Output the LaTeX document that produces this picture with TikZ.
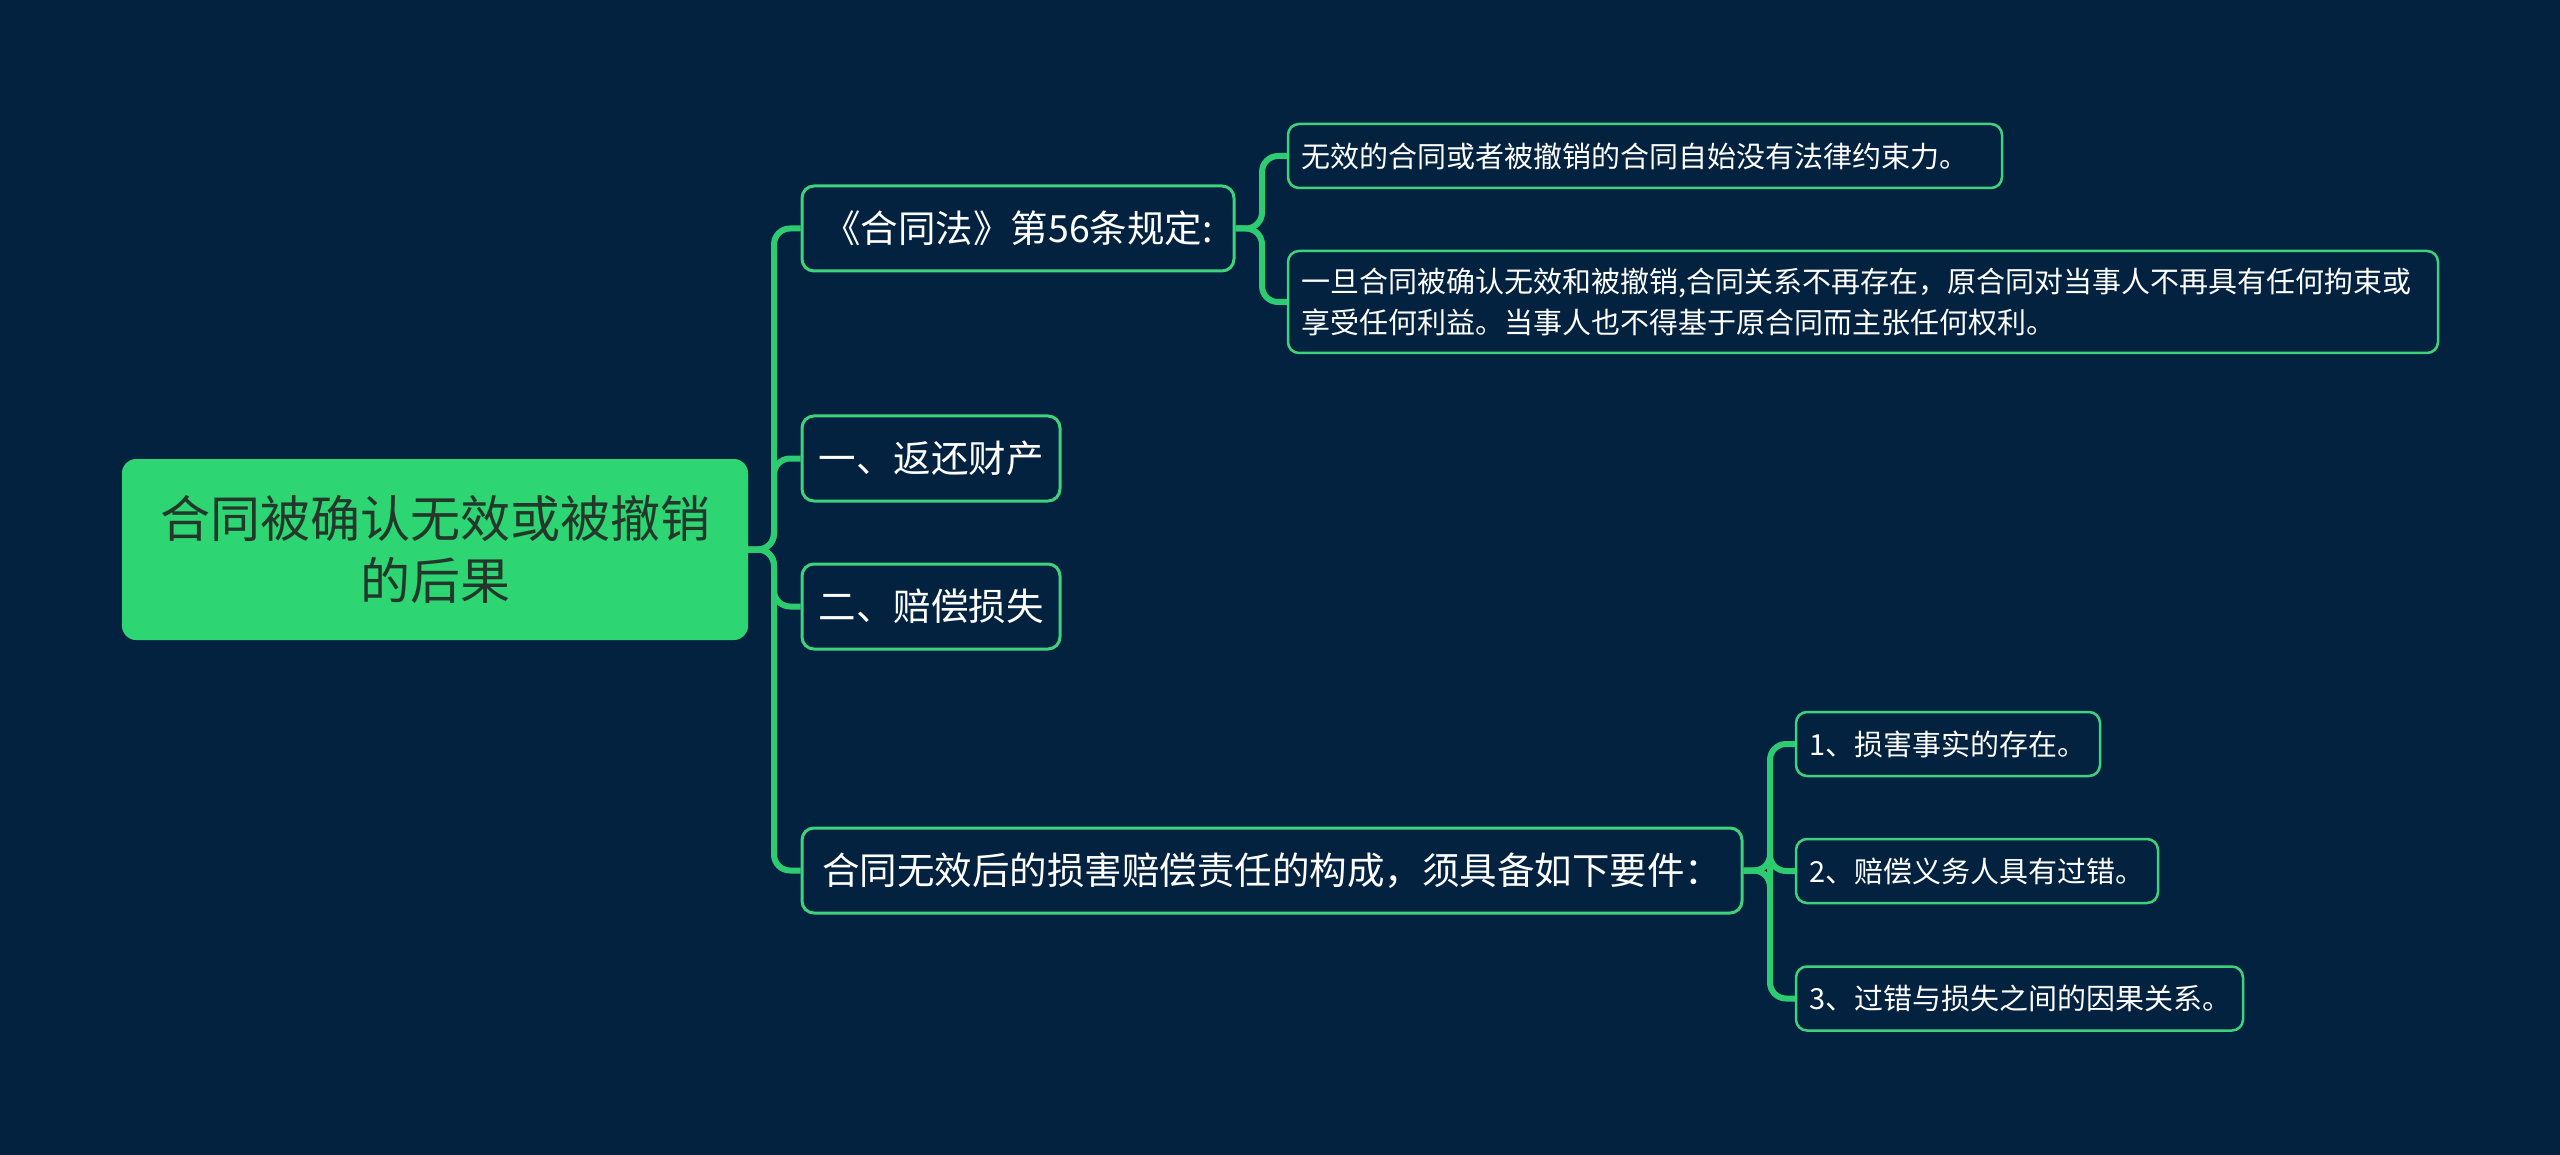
\documentclass[tikz,border=0pt]{standalone}
\usepackage{fontspec}
\setmainfont{Noto Sans CJK SC}
\definecolor{bg}{HTML}{022240}
\definecolor{lnk}{HTML}{2ECC71}
\definecolor{bord}{HTML}{3DD27B}
\definecolor{rootfill}{HTML}{2ED573}
\definecolor{roottext}{HTML}{24372B}
\begin{document}
\begin{tikzpicture}[x=1pt,y=-1pt,
  rootbox/.style={draw=none,fill=rootfill,rounded corners=14pt,text=roottext,align=center,inner sep=0pt},
  lvlone/.style={draw=bord,line width=3pt,fill=bg,rounded corners=12pt,text=white,inner sep=0pt,font=\fontsize{37.5}{44}\selectfont},
  lvltwo/.style={draw=bord,line width=2.5pt,fill=bg,rounded corners=11pt,text=white,inner xsep=13pt,inner ysep=0pt,align=left,font=\fontsize{29}{41}\selectfont},
  conn/.style={draw=lnk,line width=6pt,rounded corners=16pt}]
\useasboundingbox (0,0) rectangle (2560,1155);
\fill[bg] (0,0) rectangle (2560,1155);
\coordinate (r1) at (774,549.5);
\coordinate (t1) at (1262,228.5);
\coordinate (t4) at (1770,870.5);
% nodes
\node[rootbox,minimum width=626pt,minimum height=181pt,font=\fontsize{50}{62}\selectfont] (root) at (435,549.5) {合同被确认无效或被撤销\\的后果};
\node[lvlone,minimum width=432pt,minimum height=85pt] (n1) at (1018,228.5) {《合同法》第56条规定:};
\node[lvlone,minimum width=258pt,minimum height=85pt] (n2) at (931,458.5) {一、返还财产};
\node[lvlone,minimum width=258pt,minimum height=85pt] (n3) at (931,606.5) {二、赔偿损失};
\node[lvlone,minimum width=940pt,minimum height=85pt] (n4) at (1272,870.5) {合同无效后的损害赔偿责任的构成，须具备如下要件：};
\node[lvltwo,minimum height=64pt,text width=688pt] (c1) at (1645,156) {无效的合同或者被撤销的合同自始没有法律约束力。};
\node[lvltwo,minimum height=102pt,text width=1124pt] (c2) at (1863,302) {一旦合同被确认无效和被撤销,合同关系不再存在，原合同对当事人不再具有任何拘束或\\享受任何利益。当事人也不得基于原合同而主张任何权利。};
\node[lvltwo,minimum height=64pt,text width=278pt] (d1) at (1948,744) {1、损害事实的存在。};
\node[lvltwo,minimum height=64pt,text width=336pt] (d2) at (1977,871) {2、赔偿义务人具有过错。};
\node[lvltwo,minimum height=64pt,text width=421pt] (d3) at (2019.5,998.5) {3、过错与损失之间的因果关系。};
% connectors
\foreach \c in {n1,n2,n3,n4}{
  \draw[conn] (root.east) -- (r1) |- (\c.west);
}
\foreach \c in {c1,c2}{
  \draw[conn] (n1.east) -- (t1) |- (\c.west);
}
\foreach \c in {d1,d2,d3}{
  \draw[conn] (n4.east) -- (t4) |- (\c.west);
}
\end{tikzpicture}
\end{document}
